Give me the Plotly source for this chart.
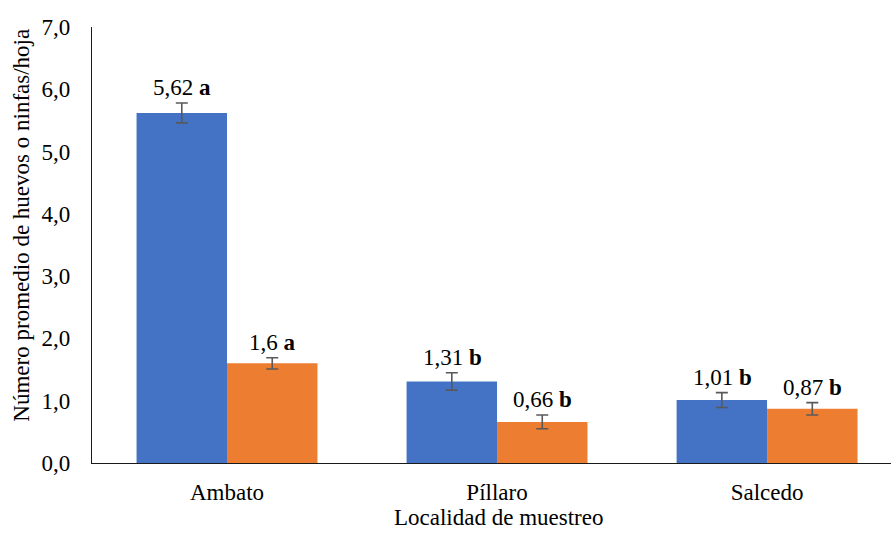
import plotly.graph_objects as go

categories = ["Ambato", "Píllaro", "Salcedo"]
series1_values = [5.62, 1.31, 1.01]
series1_errors = [0.16, 0.14, 0.12]
series1_letters = ["a", "b", "b"]
series2_values = [1.60, 0.66, 0.87]
series2_errors = [0.09, 0.11, 0.10]
series2_letters = ["a", "b", "b"]
y_ticks = [0, 1, 2, 3, 4, 5, 6, 7]

FONT = "Liberation Serif"
BLUE = "#4472C4"
ORANGE = "#ED7D31"
ERR = "#595959"

fig = go.Figure()
fig.add_trace(go.Bar(
    x=categories, y=series1_values, marker_color=BLUE, marker_line_width=0,
    error_y=dict(type="data", array=series1_errors, color=ERR, thickness=1.6, width=6),
    name="Serie 1"))
fig.add_trace(go.Bar(
    x=categories, y=series2_values, marker_color=ORANGE, marker_line_width=0,
    error_y=dict(type="data", array=series2_errors, color=ERR, thickness=1.6, width=6),
    name="Serie 2"))

def fmt(v):
    if abs(v * 10 - round(v * 10)) < 1e-9:
        return f"{v:.1f}".replace(".", ",")
    return f"{v:.2f}".replace(".", ",")

annotations = []
offset = 1.0 / 6.0
for i in range(len(categories)):
    for vals, errs, letters, sgn in ((series1_values, series1_errors, series1_letters, -1),
                                      (series2_values, series2_errors, series2_letters, 1)):
        annotations.append(dict(
            x=i + sgn * offset, y=vals[i] + errs[i], xref="x", yref="y",
            text=f"{fmt(vals[i])} <b>{letters[i]}</b>", showarrow=False,
            xanchor="center", yanchor="bottom", yshift=1,
            font=dict(family=FONT, size=23)))

annotations.append(dict(
    x=0.509, y=-0.126, xref="paper", yref="paper", text="Localidad de muestreo",
    showarrow=False, xanchor="center", yanchor="middle",
    font=dict(family=FONT, size=23)))
annotations.append(dict(
    x=-0.088, y=0.546, xref="paper", yref="paper",
    text="Número promedio de huevos o ninfas/hoja", textangle=-90,
    showarrow=False, xanchor="center", yanchor="middle",
    font=dict(family=FONT, size=23)))

fig.update_layout(
    width=891, height=536,
    margin=dict(l=92, r=0, t=27, b=73),
    paper_bgcolor="white", plot_bgcolor="white",
    barmode="group", bargap=0.33, bargroupgap=0,
    showlegend=False,
    separators=",.",
    font=dict(family=FONT, size=23, color="#000000"),
    annotations=annotations,
)
fig.update_xaxes(
    range=[-0.5, 2.459], showline=True, linecolor="#1a1a1a", linewidth=1.3,
    ticks="", showgrid=False, ticklabelstandoff=8,
    tickfont=dict(family=FONT, size=23))
fig.update_yaxes(
    range=[0, 7], tickvals=y_ticks, tickformat=".1f", showline=True,
    linecolor="#1a1a1a", linewidth=1.3, ticks="", showgrid=False, zeroline=False,
    ticklabelstandoff=16,
    tickfont=dict(family=FONT, size=23))

fig.write_html("out.html")
